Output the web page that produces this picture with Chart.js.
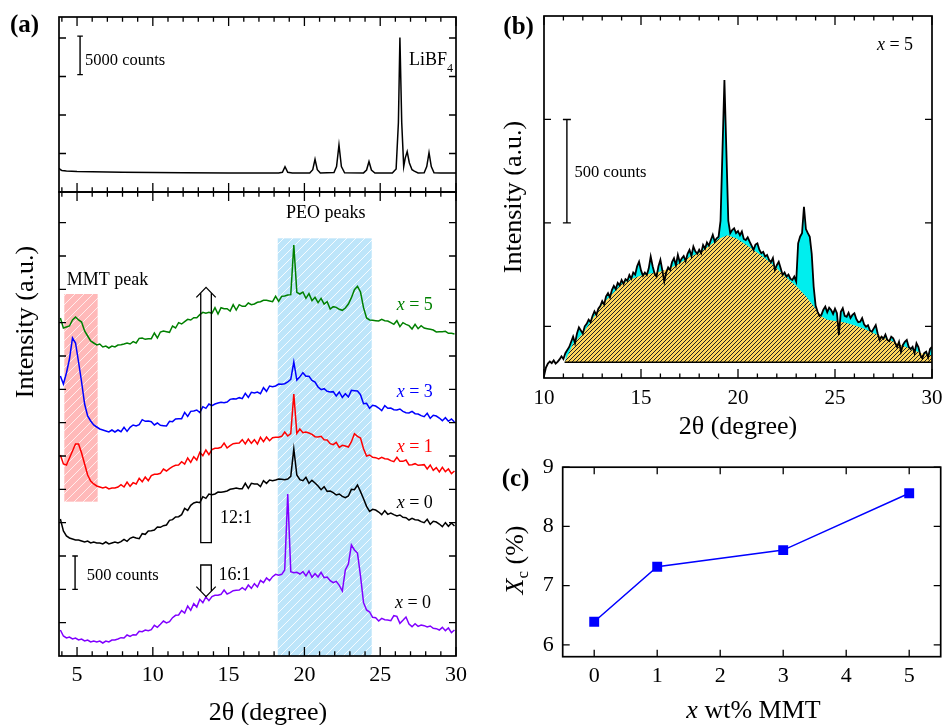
<!DOCTYPE html>
<html>
<head>
<meta charset="utf-8">
<script src="https://cdn.jsdelivr.net/npm/chart.js@4.4.1/dist/chart.umd.min.js"></script>
<style>
  html, body { margin: 0; padding: 0; background: #fff; width: 950px; height: 725px; overflow: hidden; }
  canvas { position: absolute; }
</style>
</head>
<body>
<canvas id="aBottom" width="475" height="725" style="left:0;top:0"></canvas>
<canvas id="aTop" width="475" height="200" style="left:0;top:0"></canvas>
<canvas id="panelB" width="460" height="450" style="left:490px;top:0"></canvas>
<canvas id="panelC" width="460" height="280" style="left:490px;top:445px"></canvas>
<script>
const SERIF = "'Liberation Serif','Times New Roman',Times,serif";
Chart.defaults.font.family = SERIF;
Chart.defaults.color = '#000';

// ---------- (a) upper: LiBF4 salt pattern (counts) ----------
const libTheta = [3.82,3.9,4.0,4.3,5,6,8,10,12,15,18.3,18.55,18.72,18.9,19.2,20.35,20.55,20.7,20.85,21.05,
  21.95,22.12,22.28,22.44,22.65,23.9,24.1,24.26,24.42,24.65,25.8,26.05,26.2,26.3,26.42,26.55,26.65,26.78,26.92,
  27.1,27.25,27.5,27.9,28.07,28.22,28.37,28.55,29.0,30];
const libCounts = [3100,2900,2800,2720,2660,2620,2570,2530,2500,2480,2470,2560,3290,2560,2470,2480,2900,4250,2900,2480,
  2520,3300,6100,3300,2500,2480,2850,3950,2850,2470,2470,3000,9000,20050,9000,3300,4400,5250,3800,
  2900,2700,2480,2490,3300,5100,3300,2490,2470,2470];

// ---------- (a) lower: stacked patterns, 2θ grid shared by all five ----------
const twoTheta = [
  3.9,4.1,4.3,4.5,4.7,4.9,5.1,5.3,5.5,5.7,
  5.9,6.1,6.3,6.5,6.7,6.9,7.1,7.3,7.5,7.7,
  7.9,8.1,8.3,8.5,8.7,8.9,9.1,9.3,9.5,9.7,
  9.9,10.1,10.3,10.5,10.7,10.9,11.1,11.3,11.5,11.7,
  11.9,12.1,12.3,12.5,12.7,12.9,13.1,13.3,13.5,13.7,
  13.9,14.1,14.3,14.5,14.7,14.9,15.1,15.3,15.5,15.7,
  15.9,16.1,16.3,16.5,16.7,16.9,17.1,17.3,17.5,17.7,
  17.9,18.1,18.3,18.5,18.7,18.9,19.1,19.3,19.5,19.7,
  19.9,20.1,20.3,20.5,20.7,20.9,21.1,21.3,21.5,21.7,
  21.9,22.1,22.3,22.5,22.7,22.9,23.1,23.3,23.5,23.7,
  23.9,24.1,24.3,24.5,24.7,24.9,25.1,25.3,25.5,25.7,
  25.9,26.1,26.3,26.5,26.7,26.9,27.1,27.3,27.5,27.7,
  27.9,28.1,28.3,28.5,28.7,28.9,29.1,29.3,29.5,29.7,
  29.9];

// x = 5 wt% MMT, 12:1
const xrdX5 = [
  5070,4920,4935,4950,5040,5085,5040,5010,4875,4800,
  4725,4695,4665,4680,4635,4650,4620,4650,4635,4665,
  4670,4680,4695,4680,4715,4695,4765,4770,4750,4760,
  4760,4845,4770,4860,4875,4865,4855,4950,4920,5000,
  4980,5015,5050,5040,5075,5075,5120,5155,5140,5155,
  5140,5225,5130,5225,5210,5210,5175,5270,5190,5270,
  5245,5245,5295,5270,5280,5305,5315,5335,5335,5325,
  5315,5395,5320,5395,5400,5415,5420,6165,5455,5430,
  5460,5365,5435,5330,5380,5300,5365,5280,5315,5205,
  5240,5230,5200,5185,5220,5280,5375,5495,5545,5460,
  5225,5070,5040,5035,5030,5025,5050,5030,5025,5000,
  4975,5030,4940,5000,4975,4955,4905,4975,4910,4955,
  4920,4910,4900,4890,4860,4865,4865,4870,4840,4840,
  4830];
// x = 3
const xrdX3 = [
  4200,4080,4245,4455,4770,4695,4410,4110,3780,3600,
  3525,3465,3435,3405,3390,3375,3360,3390,3360,3390,
  3365,3430,3370,3430,3465,3450,3470,3545,3520,3525,
  3515,3465,3495,3460,3455,3450,3520,3515,3555,3560,
  3560,3655,3595,3670,3675,3690,3650,3740,3715,3780,
  3755,3780,3795,3805,3800,3810,3850,3860,3855,3875,
  3860,3940,3880,3955,3945,3960,3935,4025,3970,4050,
  4040,4050,4080,4075,4085,4110,4150,4410,4140,4190,
  4250,4195,4195,4135,4110,4035,3995,4010,3970,3960,
  3965,3900,3960,3880,3935,3885,3985,3980,3975,3920,
  3785,3790,3715,3760,3750,3720,3680,3755,3715,3720,
  3695,3690,3705,3670,3650,3645,3670,3635,3630,3605,
  3590,3640,3565,3610,3600,3570,3530,3575,3520,3555,
  3510];
// x = 1
const xrdX1 = [
  3015,2880,2865,2970,3075,3180,3180,3045,2880,2715,
  2625,2580,2550,2535,2520,2535,2505,2520,2520,2535,
  2570,2535,2610,2545,2600,2580,2665,2615,2685,2630,
  2705,2725,2725,2740,2805,2775,2810,2840,2860,2865,
  2915,2880,2970,2905,2990,2940,3055,3005,3090,3020,
  3095,3115,3115,3130,3195,3120,3155,3185,3190,3195,
  3245,3180,3255,3190,3245,3180,3280,3215,3285,3230,
  3275,3280,3280,3295,3360,3300,3335,3930,3340,3405,
  3350,3360,3345,3325,3290,3285,3295,3245,3240,3185,
  3170,3205,3130,3160,3150,3135,3215,3335,3295,3270,
  3110,3000,3015,2980,2975,2955,2980,2960,2955,2930,
  2915,2980,2920,2920,2940,2865,2870,2885,2860,2865,
  2870,2805,2865,2785,2825,2760,2830,2765,2805,2735,
  2775];
// x = 0, 12:1
const xrdX0 = [
  2055,1875,1800,1770,1755,1740,1740,1725,1710,1725,
  1695,1710,1695,1695,1680,1710,1680,1695,1710,1695,
  1715,1750,1720,1765,1785,1770,1760,1835,1825,1875,
  1880,1890,1935,1930,1955,1965,2035,2045,2085,2090,
  2120,2215,2185,2260,2295,2310,2300,2390,2365,2430,
  2420,2430,2460,2455,2465,2475,2500,2510,2520,2510,
  2510,2590,2515,2590,2580,2580,2540,2630,2590,2640,
  2630,2640,2655,2650,2645,2655,2695,3105,2715,2645,
  2630,2680,2590,2635,2595,2550,2495,2540,2470,2475,
  2450,2415,2430,2395,2375,2400,2500,2495,2565,2465,
  2360,2245,2170,2200,2190,2160,2120,2180,2125,2145,
  2120,2100,2115,2080,2075,2040,2065,2045,2040,2015,
  2000,2050,1975,2020,2010,1980,1940,2000,1945,1995,
  1950];
// x = 0, 16:1
const xrdX0r16 = [
  390,300,270,285,255,270,240,255,225,240,
  210,225,210,225,195,225,210,240,240,255,
  275,270,315,295,320,315,370,365,390,380,
  395,460,430,475,525,495,515,575,610,615,
  680,645,750,685,785,735,850,800,885,830,
  890,910,910,925,990,930,950,980,985,990,
  1025,990,1065,1015,1085,1035,1135,1100,1170,1130,
  1190,1225,1210,1225,1290,2430,1265,1250,1255,1230,
  1265,1200,1275,1180,1235,1185,1255,1175,1185,1130,
  1100,1120,1060,975,1290,1380,1665,1590,1545,1200,
  800,690,660,580,575,525,565,545,540,530,
  605,595,490,535,585,480,440,485,445,465,
  455,435,450,415,410,390,430,380,420,350,
  390];

const seriesColors = { x5: '#008000', x3: '#0000FF', x1: '#FF0000', x0: '#000000', x0r16: '#8000FF' };

// ---------- (b) x = 5 pattern with amorphous halo ----------
const bTheta = [
  10.0,10.1,10.2,10.3,10.4,10.5,10.6,10.7,10.8,10.9,
  11.0,11.1,11.2,11.3,11.4,11.5,11.6,11.7,11.8,11.9,
  12.0,12.1,12.2,12.3,12.4,12.5,12.6,12.7,12.8,12.9,
  13.0,13.1,13.2,13.3,13.4,13.5,13.6,13.7,13.8,13.9,
  14.0,14.1,14.2,14.3,14.4,14.5,14.6,14.7,14.8,14.9,
  15.0,15.1,15.2,15.3,15.4,15.5,15.6,15.7,15.8,15.9,
  16.0,16.1,16.2,16.3,16.4,16.5,16.6,16.7,16.8,16.9,
  17.0,17.1,17.2,17.3,17.4,17.5,17.6,17.7,17.8,17.9,
  18.0,18.1,18.2,18.3,18.4,18.5,18.6,18.7,18.8,18.9,
  19.0,19.1,19.2,19.3,19.4,19.5,19.6,19.7,19.8,19.9,
  20.0,20.1,20.2,20.3,20.4,20.5,20.6,20.7,20.8,20.9,
  21.0,21.1,21.2,21.3,21.4,21.5,21.6,21.7,21.8,21.9,
  22.0,22.1,22.2,22.3,22.4,22.5,22.6,22.7,22.8,22.9,
  23.0,23.1,23.2,23.3,23.4,23.5,23.6,23.7,23.8,23.9,
  24.0,24.1,24.2,24.3,24.4,24.5,24.6,24.7,24.8,24.9,
  25.0,25.1,25.2,25.3,25.4,25.5,25.6,25.7,25.8,25.9,
  26.0,26.1,26.2,26.3,26.4,26.5,26.6,26.7,26.8,26.9,
  27.0,27.1,27.2,27.3,27.4,27.5,27.6,27.7,27.8,27.9,
  28.0,28.1,28.2,28.3,28.4,28.5,28.6,28.7,28.8,28.9,
  29.0,29.1,29.2,29.3,29.4,29.5,29.6,29.7,29.8,29.9,
  30.0];
const bCounts = [
  10,50,70,80,72,85,70,78,90,105,
  92,120,135,150,175,200,168,215,245,230,
  215,250,262,282,270,300,322,305,335,348,
  372,355,395,410,390,425,445,430,460,448,
  474,455,478,470,498,480,510,500,540,562,
  520,495,510,498,530,587,540,505,490,540,
  571,520,466,510,535,522,560,579,545,595,
  560,578,590,565,600,619,590,635,612,600,
  620,603,643,625,655,640,667,692,660,675,
  683,760,1100,1441,1100,760,700,715,724,700,
  710,690,708,672,667,680,659,640,619,645,
  651,620,603,610,587,595,571,560,580,522,
  545,562,530,498,510,490,500,480,474,490,
  466,651,683,700,828,720,700,683,600,442,
  350,321,300,305,330,345,318,340,329,310,
  335,313,208,320,337,300,296,315,290,305,
  313,285,270,272,290,260,248,255,230,224,
  240,256,215,184,200,190,210,184,178,200,
  192,170,150,175,127,160,175,184,150,140,
  151,120,168,150,110,95,120,127,100,140,
  151];
const haloTheta = [11.06,11.5,12.0,12.5,13.0,13.5,14.0,14.5,15.0,15.5,16.0,16.5,17.0,17.5,18.0,18.5,19.0,19.45,
  19.9,20.4,21.0,21.5,22.0,22.5,23.0,23.5,24.0,24.3,24.6,25.0,25.5,26.0,26.5,27.0,27.5,28.0,28.5,29.0,29.5,30.0];
const haloCounts = [76,165,215,285,355,405,455,478,495,505,515,530,556,585,605,638,672,690,
  676,645,605,570,530,485,445,395,335,298,282,276,268,255,238,216,196,176,156,136,118,110];
const bBaseline = 76;

// ---------- (c) crystallinity vs MMT loading ----------
const mmtLoading = [0, 1, 3, 5];
const crystallinity = [6.39, 7.32, 7.60, 8.56];

// ---------- tick values ----------
const xMajorA = [5, 10, 15, 20, 25, 30];
const xMinorA = [4,6,7,8,9,11,12,13,14,16,17,18,19,21,22,23,24,26,27,28,29];
const yTicksATop = [5000, 10000, 15000, 20000];
const yTicksABottom = [500,1000,1500,2000,2500,3000,3500,4000,4500,5000,5500,6000,6500];
const xMajorB = [10, 15, 20, 25, 30];
const xMinorB = [11,12,13,14,16,17,18,19,21,22,23,24,26,27,28,29];
const yTicksB = [250, 750, 1250];
const xTicksC = [0, 1, 2, 3, 4, 5];
const yTicksC = [6, 7, 8, 9];

// ---------- helpers ----------
const pts = (xs, ys) => xs.map((x, i) => ({ x, y: ys[i] }));
const F = (size, style) => `${style ? style + ' ' : ''}${size}px ${SERIF}`;
const asTicks = vals => vals.map(v => ({ value: v }));

function hatch(bg, line, size, lw) {
  const c = document.createElement('canvas');
  c.width = c.height = size;
  const g = c.getContext('2d');
  g.fillStyle = bg; g.fillRect(0, 0, size, size);
  g.strokeStyle = line; g.lineWidth = lw;
  g.beginPath();
  g.moveTo(-1, size + 1); g.lineTo(size + 1, -1);
  g.moveTo(-1, 1); g.lineTo(1, -1);
  g.moveTo(size - 1, size + 1); g.lineTo(size + 1, size - 1);
  g.stroke();
  return g.createPattern(c, 'repeat');
}

function drawFrame(chart, s) {
  const { ctx, chartArea: a, scales } = chart;
  const X = scales.x, Y = scales.y;
  ctx.save();
  ctx.strokeStyle = '#000';
  ctx.lineWidth = 1.3;
  ctx.beginPath();
  const vt = (v, len) => {
    const p = X.getPixelForValue(v);
    ctx.moveTo(p, a.bottom); ctx.lineTo(p, a.bottom - len);
    ctx.moveTo(p, a.top); ctx.lineTo(p, a.top + len);
  };
  (s.xMajor || []).forEach(v => vt(v, s.maj));
  (s.xMinor || []).forEach(v => vt(v, s.min));
  (s.yMajor || []).forEach(v => {
    const p = Y.getPixelForValue(v);
    ctx.moveTo(a.left, p); ctx.lineTo(a.left + s.ylen, p);
    ctx.moveTo(a.right, p); ctx.lineTo(a.right - s.ylen, p);
  });
  ctx.stroke();
  ctx.lineWidth = 1.7;
  ctx.strokeRect(a.left, a.top, a.right - a.left, a.bottom - a.top);
  ctx.restore();
}

// draws runs of text with mixed fonts: parts = [[text, font, dy]]
function runs(ctx, parts, x, y, align, color) {
  ctx.save();
  ctx.fillStyle = color || '#000';
  ctx.textAlign = 'left';
  ctx.textBaseline = 'alphabetic';
  let w = 0;
  parts.forEach(p => { ctx.font = p[1]; w += ctx.measureText(p[0]).width; });
  let cx = align === 'center' ? x - w / 2 : x;
  parts.forEach(p => { ctx.font = p[1]; ctx.fillText(p[0], cx, y + (p[2] || 0)); cx += ctx.measureText(p[0]).width; });
  ctx.restore();
}

function dataText(chart, parts, xv, yv, color) {
  const { x, y } = chart.scales;
  runs(chart.ctx, parts, x.getPixelForValue(xv), y.getPixelForValue(yv), 'left', color);
}

function scaleBar(chart, xv, y0, y1, cap) {
  const { ctx, scales: { x, y } } = chart;
  const px = x.getPixelForValue(xv), a = y.getPixelForValue(y0), b = y.getPixelForValue(y1);
  ctx.save();
  ctx.strokeStyle = '#000'; ctx.lineWidth = 1.4;
  ctx.beginPath();
  ctx.moveTo(px, a); ctx.lineTo(px, b);
  ctx.moveTo(px - cap, a); ctx.lineTo(px + cap, a);
  ctx.moveTo(px - cap, b); ctx.lineTo(px + cap, b);
  ctx.stroke();
  ctx.restore();
}

// open double-line arrow from tail to tip
function hollowArrow(chart, xv, tipV, tailV) {
  const { ctx, scales: { x, y } } = chart;
  const cx = x.getPixelForValue(xv), tip = y.getPixelForValue(tipV), tail = y.getPixelForValue(tailV);
  const dir = tail > tip ? 1 : -1;
  const hw = 5.3, hh = 9.7, hl = 10;
  const join = tip + dir * hl * hw / hh;
  ctx.save();
  ctx.strokeStyle = '#000'; ctx.lineWidth = 1.3;
  ctx.beginPath();
  ctx.moveTo(cx - hh, tip + dir * hl); ctx.lineTo(cx, tip); ctx.lineTo(cx + hh, tip + dir * hl);
  ctx.moveTo(cx - hw, join); ctx.lineTo(cx - hw, tail); ctx.lineTo(cx + hw, tail); ctx.lineTo(cx + hw, join);
  ctx.stroke();
  ctx.restore();
}

function shadedBand(chart, x0, x1, y0, y1, pattern) {
  const { ctx, scales: { x, y } } = chart;
  const l = x.getPixelForValue(x0), r = x.getPixelForValue(x1);
  const t = y.getPixelForValue(y1), b = y.getPixelForValue(y0);
  ctx.save();
  ctx.fillStyle = pattern;
  ctx.fillRect(l, t, r - l, b - t);
  ctx.restore();
}

const baseOptions = () => ({
  responsive: false,
  animation: false,
  devicePixelRatio: 1,
  events: [],
  plugins: { legend: { display: false }, tooltip: { enabled: false } }
});
const lineSet = (data, color, width) => ({
  data, borderColor: color, borderWidth: width, pointRadius: 0, tension: 0, fill: false
});

// ---------- (a) lower panel ----------
const mmtBand = hatch('#FFB9B9', 'rgba(255,255,255,0.75)', 9, 1);
const peoBand = hatch('#BDE5FA', 'rgba(255,255,255,0.85)', 9, 1);

new Chart(document.getElementById('aBottom'), {
  type: 'line',
  data: {
    datasets: [
      lineSet(pts(twoTheta, xrdX5), seriesColors.x5, 1.5),
      lineSet(pts(twoTheta, xrdX3), seriesColors.x3, 1.5),
      lineSet(pts(twoTheta, xrdX1), seriesColors.x1, 1.5),
      lineSet(pts(twoTheta, xrdX0), seriesColors.x0, 1.5),
      lineSet(pts(twoTheta, xrdX0r16), seriesColors.x0r16, 1.5)
    ]
  },
  options: Object.assign(baseOptions(), {
    layout: { padding: { left: 59, top: 192, right: 19, bottom: 0 } },
    scales: {
      x: {
        type: 'linear', min: 3.81, max: 30,
        grid: { display: false, drawTicks: false }, border: { display: false },
        ticks: { font: { size: 22 }, color: '#000', padding: 6.5, autoSkip: false, maxRotation: 0 },
        afterBuildTicks: s => { s.ticks = asTicks(xMajorA); },
        afterFit: s => { s.height = 69; }
      },
      y: { type: 'linear', display: false, min: 0, max: 6960 }
    }
  }),
  plugins: [{
    id: 'aBottomDeco',
    beforeDatasetsDraw(chart) {
      shadedBand(chart, 4.16, 6.36, 2315, 5430, mmtBand);
      shadedBand(chart, 18.24, 24.44, 0, 6265, peoBand);
    },
    afterDatasetsDraw(chart) {
      drawFrame(chart, { xMajor: xMajorA, xMinor: xMinorA, yMajor: yTicksABottom, maj: 9, min: 4.7, ylen: 7 });
      const ctx = chart.ctx;
      dataText(chart, [['PEO peaks', F(18)]], 18.78, 6565);
      dataText(chart, [['MMT peak', F(18)]], 4.32, 5565);
      dataText(chart, [['x', F(18, 'italic')], [' = 5', F(18)]], 26.09, 5190, seriesColors.x5);
      dataText(chart, [['x', F(18, 'italic')], [' = 3', F(18)]], 26.09, 3890, seriesColors.x3);
      dataText(chart, [['x', F(18, 'italic')], [' = 1', F(18)]], 26.09, 3065, seriesColors.x1);
      dataText(chart, [['x', F(18, 'italic')], [' = 0', F(18)]], 26.09, 2215, '#000');
      dataText(chart, [['x', F(18, 'italic')], [' = 0', F(18)]], 25.97, 715, '#000');
      dataText(chart, [['12:1', F(18)]], 14.43, 1995);
      dataText(chart, [['16:1', F(18)]], 14.34, 1140);
      dataText(chart, [['500 counts', F(16.5)]], 5.64, 1140);
      scaleBar(chart, 4.87, 1000, 1500, 2.8);
      hollowArrow(chart, 13.51, 5530, 1700);
      hollowArrow(chart, 13.51, 890, 1365);
      // axis titles
      runs(ctx, [['2θ (degree)', F(26)]], 268, 720, 'center');
      ctx.save();
      ctx.translate(33.3, 322);
      ctx.rotate(-Math.PI / 2);
      runs(ctx, [['Intensity (a.u.)', F(26)]], 0, 0, 'center');
      ctx.restore();
    }
  }]
});

// ---------- (a) upper panel ----------
new Chart(document.getElementById('aTop'), {
  type: 'line',
  data: { datasets: [lineSet(pts(libTheta, libCounts), '#000', 1.5)] },
  options: Object.assign(baseOptions(), {
    layout: { padding: { left: 59, top: 17, right: 19, bottom: 8 } },
    scales: {
      x: { type: 'linear', display: false, min: 3.81, max: 30 },
      y: { type: 'linear', display: false, min: 0, max: 22730 }
    }
  }),
  plugins: [{
    id: 'aTopDeco',
    afterDatasetsDraw(chart) {
      drawFrame(chart, { xMajor: xMajorA, xMinor: xMinorA, yMajor: yTicksATop, maj: 9, min: 4.7, ylen: 7 });
      dataText(chart, [['5000 counts', F(16.5)]], 5.53, 16490);
      scaleBar(chart, 5.20, 15250, 20250, 2.8);
      dataText(chart, [['LiBF', F(18)], ['4', F(12), 6.5]], 26.90, 16490);
      runs(chart.ctx, [['(a)', F(25, 'bold')]], 10, 31.7, 'left');
    }
  }]
});

// ---------- (b) ----------
const halo = hatch('#FFD65C', '#222', 4, 1.0);
const blackPts = pts(bTheta, bCounts);

new Chart(document.getElementById('panelB'), {
  type: 'line',
  data: {
    datasets: [
      { data: blackPts.filter(p => p.x >= 11.1), borderWidth: 0, borderColor: 'rgba(0,0,0,0)', pointRadius: 0, tension: 0,
        fill: { value: bBaseline }, backgroundColor: '#00EEEE', order: 4 },
      { data: pts(haloTheta, haloCounts), borderWidth: 0, borderColor: 'rgba(0,0,0,0)', pointRadius: 0, tension: 0,
        fill: { value: bBaseline }, backgroundColor: halo, order: 3 },
      Object.assign(lineSet([{ x: haloTheta[0], y: bBaseline }, { x: haloTheta[haloTheta.length - 1], y: bBaseline }], '#000', 1.6), { order: 2 }),
      Object.assign(lineSet(blackPts, '#000', 1.8), { order: 1 })
    ]
  },
  options: Object.assign(baseOptions(), {
    layout: { padding: { left: 0, top: 16, right: 11, bottom: 0 } },
    scales: {
      x: {
        type: 'linear', min: 10, max: 30,
        grid: { display: false, drawTicks: false }, border: { display: false },
        ticks: { font: { size: 21 }, color: '#000', padding: 7.5, autoSkip: false, maxRotation: 0 },
        afterBuildTicks: s => { s.ticks = asTicks(xMajorB); },
        afterFit: s => { s.height = 72; },
        title: { display: true, text: '2θ (degree)', font: { size: 26 }, color: '#000', padding: { top: 0, bottom: 7.2 } }
      },
      y: {
        type: 'linear', min: 0, max: 1750,
        grid: { display: false, drawTicks: false }, border: { display: false },
        ticks: { display: false },
        afterFit: s => { s.width = 54; },
        title: { display: true, text: 'Intensity (a.u.)', font: { size: 26 }, color: '#000', padding: { top: 8.6, bottom: 0 } }
      }
    }
  }),
  plugins: [{
    id: 'bDeco',
    afterDatasetsDraw(chart) {
      drawFrame(chart, { xMajor: xMajorB, xMinor: xMinorB, yMajor: yTicksB, maj: 9, min: 4.5, ylen: 7 });
      dataText(chart, [['x', F(18, 'italic')], [' = 5', F(18)]], 27.16, 1586);
      dataText(chart, [['500 counts', F(16.5)]], 11.57, 973);
      scaleBar(chart, 11.18, 750, 1250, 4);
      runs(chart.ctx, [['(b)', F(25, 'bold')]], 13.3, 33.8, 'left');
    }
  }]
});

// ---------- (c) ----------
new Chart(document.getElementById('panelC'), {
  type: 'line',
  data: {
    datasets: [{
      data: pts(mmtLoading, crystallinity), borderColor: '#0000FF', borderWidth: 1.5, tension: 0, fill: false,
      pointStyle: 'rect', pointRadius: 7, pointBackgroundColor: '#0000FF', pointBorderColor: '#0000FF', pointBorderWidth: 0
    }]
  },
  options: Object.assign(baseOptions(), {
    layout: { padding: { left: 0, top: 21.7, right: 9.3, bottom: 0 } },
    scales: {
      x: {
        type: 'linear', min: -0.5, max: 5.5,
        grid: { display: false, drawTicks: false }, border: { display: false },
        ticks: { font: { size: 22 }, color: '#000', padding: 6.8, autoSkip: false, maxRotation: 0 },
        afterBuildTicks: s => { s.ticks = asTicks(xTicksC); },
        afterFit: s => { s.height = 68.3; }
      },
      y: {
        type: 'linear', min: 5.8, max: 9,
        grid: { display: false, drawTicks: false }, border: { display: false },
        ticks: { font: { size: 22 }, color: '#000', padding: 9 },
        afterBuildTicks: s => { s.ticks = asTicks(yTicksC); },
        afterFit: s => { s.width = 72.7; }
      }
    }
  }),
  plugins: [{
    id: 'cDeco',
    afterDatasetsDraw(chart) {
      drawFrame(chart, { xMajor: xTicksC, xMinor: [], yMajor: yTicksC, maj: 7, min: 0, ylen: 7 });
      const ctx = chart.ctx;
      runs(ctx, [['x', F(26, 'italic')], [' wt% MMT', F(26)]], 263.5, 273.3, 'center');
      ctx.save();
      ctx.translate(33.3, 115);
      ctx.rotate(-Math.PI / 2);
      runs(ctx, [['X', F(26, 'italic')], ['c', F(17), 5], [' (%)', F(26)]], 0, 0, 'center');
      ctx.restore();
      runs(ctx, [['(c)', F(25, 'bold')]], 11.7, 41, 'left');
    }
  }]
});
</script>
</body>
</html>
